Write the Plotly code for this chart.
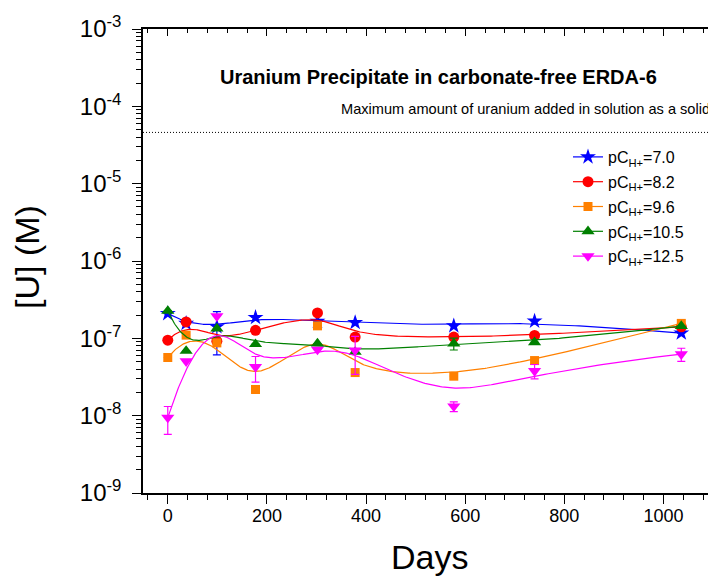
import numpy as np
import plotly.graph_objects as go

# ---------------- data ----------------
DAYS = [0, 37, 99, 177, 302, 378, 577, 740, 1036]

U_PC70 = [2.09e-7, 1.56e-7, 1.41e-7, 1.86e-7, 1.66e-7, 1.60e-7, 1.45e-7, 1.67e-7, 1.17e-7]
ERR_PC70 = [None, None, 8.0e-8, None, None, None, None, None, None]

U_PC82 = [9.46e-8, 1.63e-7, 9.2e-8, 1.27e-7, 2.13e-7, 1.04e-7, 1.04e-7, 1.09e-7, 1.41e-7]
ERR_PC82 = [None] * 9

U_PC96 = [5.65e-8, 1.10e-7, 8.73e-8, 2.18e-8, 1.45e-7, 3.61e-8, 3.24e-8, 5.16e-8, 1.56e-7]
ERR_PC96 = [None] * 9

U_PC105 = [2.26e-7, 6.87e-8, 1.34e-7, 8.4e-8, 8.57e-8, 6.67e-8, 8.57e-8, 8.9e-8, 1.44e-7]
ERR_PC105 = [None, None, None, None, None, None, 1.5e-8, None, None]

U_PC125 = [9.44e-9, 5.06e-8, 1.93e-7, 4.27e-8, 7.16e-8, 7.01e-8, 1.32e-8, 3.79e-8, 6.24e-8]
ERR_PC125 = [3.7e-9, None, None, 1.55e-8, None, 3.6e-8, 1.9e-9, 8.0e-9, 1.2e-8]

SERIES_NAMES = ["pC<sub>H+</sub>=7.0", "pC<sub>H+</sub>=8.2", "pC<sub>H+</sub>=9.6",
                "pC<sub>H+</sub>=10.5", "pC<sub>H+</sub>=12.5"]

MAX_U_ADDED = 4.6e-5

X_TICKS = [0, 200, 400, 600, 800, 1000]
Y_TICKS = [1e-3, 1e-4, 1e-5, 1e-6, 1e-7, 1e-8, 1e-9]
Y_TICK_TEXT = ["10<sup>-3</sup>", "10<sup>-4</sup>", "10<sup>-5</sup>", "10<sup>-6</sup>",
               "10<sup>-7</sup>", "10<sup>-8</sup>", "10<sup>-9</sup>"]

TITLE = "Uranium Precipitate in carbonate-free ERDA-6"
MAX_LABEL = "Maximum amount of uranium added in solution as a solid"

# ---------------- styles ----------------
COLORS = ["#0000FF", "#FF0000", "#FF8000", "#008000", "#FF00FF"]
SYMBOLS = ["star", "circle", "square", "triangle-up", "triangle-down"]
SIZES = [12, 11, 9, 11.5, 11.5]

FONT = "Liberation Sans, Arial, sans-serif"


def bspline_basis(knots, k, t):
    m = len(knots) - 1
    B = np.zeros((len(t), m))
    for i in range(m):
        B[:, i] = (knots[i] <= t) & (t < knots[i + 1])
    last = np.where(knots[:-1] < knots[1:])[0][-1]
    B[t >= knots[-1], last] = 1.0
    for p in range(1, k + 1):
        Bn = np.zeros((len(t), m - p))
        for i in range(m - p):
            d1 = knots[i + p] - knots[i]
            d2 = knots[i + p + 1] - knots[i + 1]
            term = np.zeros(len(t))
            if d1 > 0:
                term = term + (t - knots[i]) / d1 * B[:, i]
            if d2 > 0:
                term = term + (knots[i + p + 1] - t) / d2 * B[:, i + 1]
            Bn[:, i] = term
        B = Bn
    return B


def bspline_curve(xs, ys, num=400, k=3):
    """Clamped uniform cubic B-spline using data points as control points (log-y space)."""
    P = np.column_stack([np.asarray(xs, float), np.log10(np.asarray(ys, float))])
    n = len(P)
    knots = np.concatenate([np.zeros(k), np.arange(n - k + 1), np.full(k, n - k)]).astype(float)
    t = np.linspace(0, n - k, num)
    C = bspline_basis(knots, k, t) @ P
    return C[:, 0], 10 ** C[:, 1]


fig = go.Figure()

all_u = [U_PC70, U_PC82, U_PC96, U_PC105, U_PC125]
all_err = [ERR_PC70, ERR_PC82, ERR_PC96, ERR_PC105, ERR_PC125]

for u, err, name, col, sym, sz in zip(all_u, all_err, SERIES_NAMES, COLORS, SYMBOLS, SIZES):
    cx, cy = bspline_curve(DAYS, u)
    fig.add_trace(go.Scatter(x=cx, y=cy, mode="lines", line=dict(color=col, width=1.2),
                             showlegend=False, hoverinfo="skip"))
    fig.add_trace(go.Scatter(
        x=DAYS, y=u, mode="markers",
        marker=dict(symbol=sym, size=sz, color=col, line=dict(width=0)),
        error_y=dict(type="data", array=err, visible=True, color=col, thickness=1.2, width=4),
        showlegend=False))
    # legend entry (line + symbol)
    fig.add_trace(go.Scatter(x=[None], y=[None], mode="lines+markers", name=name,
                             legendgroup=name,
                             marker=dict(symbol=sym, size=sz, color=col, line=dict(width=0)),
                             line=dict(color=col, width=1.2),
                             xaxis="x2", yaxis="y2", showlegend=True))

fig.add_hline(y=MAX_U_ADDED, line=dict(color="black", width=1, dash="1px,2px"))

# The page body has an 8px margin, so the figure starts at (8, 8) of the window.
OFF = 8
W, H = 716 - OFF, 579 - OFF
L, R, T, B = 143 - OFF, 0, 29 - OFF, 86
PW, PH = W - L - R, H - T - B


def px(xw):
    """window x pixel -> paper fraction"""
    return (xw - OFF - L) / PW


def py(yw):
    """window y pixel -> paper fraction"""
    return (H - B - (yw - OFF)) / PH


minor_y = [m * 10.0 ** e for e in range(-9, -3) for m in range(2, 10)]

axis_common = dict(showgrid=False, zeroline=False, linecolor="black", linewidth=1.5,
                   tickcolor="black", tickwidth=1.2, automargin=False)

fig.update_layout(
    width=W, height=H,
    margin=dict(l=L, r=R, t=T, b=B, autoexpand=False),
    paper_bgcolor="white", plot_bgcolor="white",
    font=dict(family=FONT, color="black"),
    xaxis=dict(range=[-50, 1106], tickmode="array", tickvals=X_TICKS,
               ticks="outside", ticklen=9, showline=True,
               tickfont=dict(size=18, family=FONT), ticklabelstandoff=-3,
               minor=dict(dtick=40, tick0=0, ticks="outside", ticklen=5, tickcolor="black",
                          tickwidth=1.2, showgrid=False),
               **axis_common),
    yaxis=dict(type="log", range=[-9, -3], tickmode="array", tickvals=Y_TICKS,
               ticktext=Y_TICK_TEXT, ticks="outside", ticklen=9, showline=True,
               tickfont=dict(size=24, family=FONT), ticklabelstandoff=6,
               minor=dict(tickmode="array", tickvals=minor_y, ticks="outside", ticklen=5,
                          tickcolor="black", tickwidth=1.2, showgrid=False),
               **axis_common),
    xaxis2=dict(overlaying="x", side="top", range=[-50, 1106], tickmode="array", tickvals=X_TICKS,
                ticks="inside", ticklen=7, showline=True, showticklabels=False,
                minor=dict(dtick=40, tick0=0, ticks="inside", ticklen=4, tickcolor="black",
                           tickwidth=1.2, showgrid=False),
                **axis_common),
    yaxis2=dict(overlaying="y", side="right", type="log", range=[-9, -3], tickmode="array",
                tickvals=Y_TICKS, ticks="inside", ticklen=6, showline=False, showticklabels=False,
                showgrid=False, zeroline=False, tickcolor="black", tickwidth=1.2, automargin=False),
    legend=dict(x=px(568), y=py(140), xanchor="left", yanchor="top",
                bgcolor="rgba(0,0,0,0)", borderwidth=0,
                font=dict(family=FONT, size=16, color="black"),
                tracegroupgap=1),
    showlegend=True,
)

fig.add_annotation(text="<b>" + TITLE + "</b>", xref="paper", yref="paper",
                   x=px(438), y=py(77), xanchor="center", yanchor="middle", showarrow=False,
                   font=dict(family=FONT, size=20, color="black"))
fig.add_annotation(text=MAX_LABEL, xref="paper", yref="paper",
                   x=px(712), y=py(109), xanchor="right", yanchor="middle", showarrow=False,
                   font=dict(family=FONT, size=14.6, color="black"))
fig.add_annotation(text="Days", xref="paper", yref="paper",
                   x=px(429), y=py(557), xanchor="center", yanchor="middle", showarrow=False,
                   font=dict(family=FONT, size=34, color="black"))
fig.add_annotation(text="[U] (M)", xref="paper", yref="paper", textangle=-90,
                   x=px(27), y=py(257), xanchor="center", yanchor="middle", showarrow=False,
                   font=dict(family=FONT, size=34, color="black"))

fig.write_html("out.html")
